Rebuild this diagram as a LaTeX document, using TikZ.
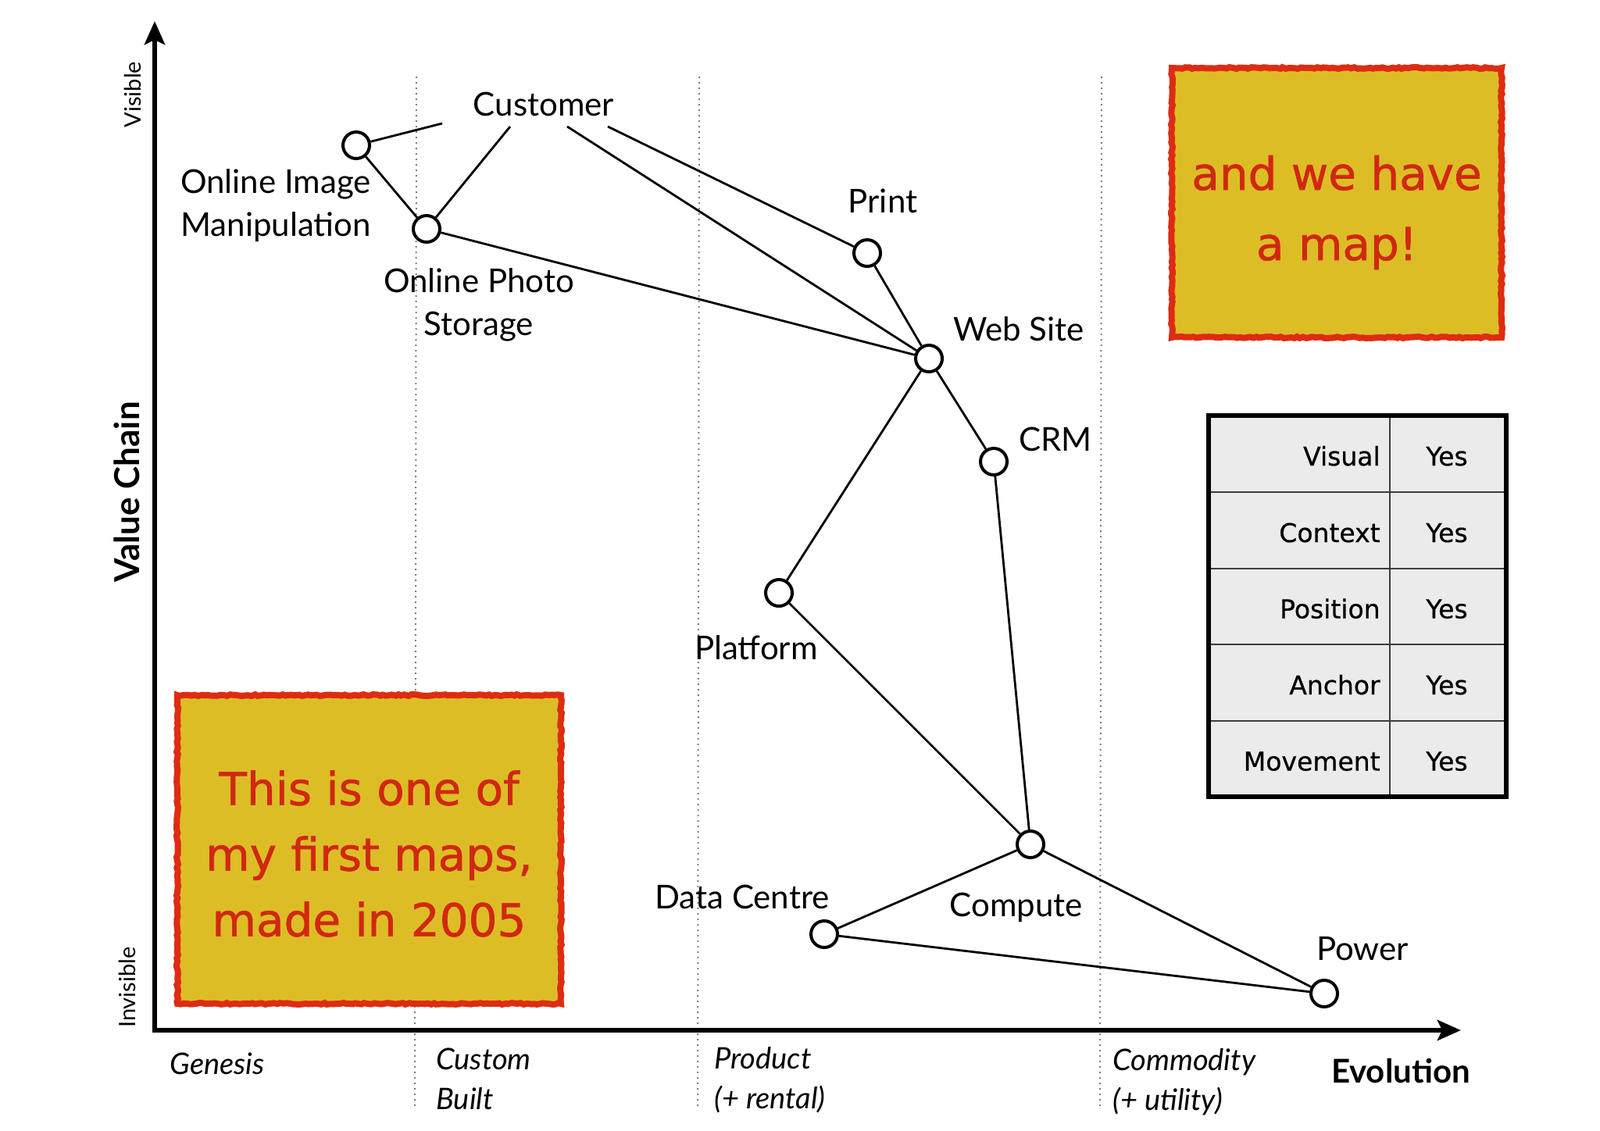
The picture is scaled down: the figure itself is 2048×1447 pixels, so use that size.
\documentclass[tikz,border=0pt]{standalone}
\usepackage{fontspec}
\setmainfont{Lato}
\newfontfamily\notefont[FakeBold=1.2]{DejaVu Sans}
\newfontfamily\cellfont[FakeBold=0.6]{DejaVu Sans}
\usetikzlibrary{arrows.meta,decorations.pathmorphing}
\definecolor{notefill}{RGB}{221,189,38}
\definecolor{notered}{RGB}{222,44,18}
\definecolor{notetext}{RGB}{208,40,16}
\definecolor{tablefill}{RGB}{235,235,235}
\definecolor{tableline}{RGB}{60,60,60}
\begin{document}
\begin{tikzpicture}[x=0.5pt,y=-0.5pt,
  comp/.style={circle,draw,line width=2pt,fill=white,minimum size=17pt,inner sep=0pt},
  link/.style={line width=1.4pt},
  lbl/.style={font=\fontsize{21}{27.5}\selectfont,align=center,inner sep=0pt},
  evo/.style={font=\fontsize{19}{25.5}\selectfont\itshape,align=left,inner sep=0pt,anchor=west},
  axislbl/.style={font=\fontsize{14.5}{17}\selectfont,inner sep=0pt,rotate=90},
  axisline/.style={line width=3pt,{Stealth[length=15pt,width=13pt,inset=3pt]}-{Stealth[length=15pt,width=13pt,inset=3pt]}},
  stage/.style={gray,line width=1pt,dash pattern=on 1pt off 2.5pt},
  note/.style={draw=notered,fill=notefill,line width=4pt,decorate,
    decoration={random steps,segment length=2pt,amplitude=0.5pt}},
  notetxt/.style={text=notetext,font=\notefont\fontsize{29}{42}\selectfont,align=center,inner sep=0pt},
  cell/.style={font=\cellfont\fontsize{16.5}{20}\selectfont,inner sep=0pt,text height=12pt,text depth=0pt},
]
\fill[white] (0,0) rectangle (2048,1447);
\useasboundingbox (0,0) rectangle (2048,1447);

% evolution stage separators
\draw[stage] (533,98) -- (531,1421);
\draw[stage] (895,98) -- (893,1421);
\draw[stage] (1410,98) -- (1408,1421);

% sticky notes
\node[note,minimum width=211pt,minimum height=172.5pt] (note1) at (1711,259.5) {};
\node[notetxt] (note1t) at (1711,272) {and we have\\[3pt]a map!};
\node[note,minimum width=245.5pt,minimum height=197.5pt] (note2) at (472.5,1087.5) {};
\node[notetxt] (note2t) at (472.5,1093) {This is one of\\my first maps,\\made in 2005};

% table
\fill[tablefill] (1547,532) rectangle (1928,1020);
\foreach \yy in {630,728,825,923} \draw[tableline,line width=1pt] (1547,\yy) -- (1928,\yy);
\draw[tableline,line width=1pt] (1779,532) -- (1779,1020);
\draw[black,line width=3pt] (1547,532) rectangle (1928,1020);
\node[cell,anchor=east] (t1) at (1767,584) {Visual};
\node[cell,anchor=east] (t2) at (1767,682) {Context};
\node[cell,anchor=east] (t3) at (1767,779.5) {Position};
\node[cell,anchor=east] (t4) at (1767,877) {Anchor};
\node[cell,anchor=east] (t5) at (1767,974.5) {Movement};
\foreach \yy/\nm in {584/y1,682/y2,779.5/y3,877/y4,974.5/y5}
  \node[cell] (\nm) at (1852,\yy) {Yes};

% axes
\coordinate (ytip) at (198,27);
\coordinate (orig) at (198,1319);
\coordinate (xtip) at (1870,1319);
\draw[axisline] (ytip) -- (orig) -- (xtip);

\node[axislbl] (vis) at (170,121) {Visible};
\node[axislbl] (invis) at (163,1264) {Invisible};
\node[font=\fontsize{22}{26}\selectfont\bfseries,rotate=90,inner sep=0pt] (vc) at (162,630) {Value Chain};
\node[font=\fontsize{21}{26}\selectfont\bfseries,inner sep=0pt] (evol) at (1793,1371) {Evolution};
\node[font=\fontsize{19}{25.5}\selectfont\itshape,inner sep=0pt] (gen) at (278,1362) {Genesis};
\node[evo] (cb) at (558,1381) {Custom\\Built};
\node[evo] (pr) at (914,1383) {Product\\(+ rental)};
\node[evo] (cm) at (1424,1385) {Commodity\\(+ utility)};

% components
\node[comp] (oim) at (456,186) {};
\node[comp] (ops) at (546,293) {};
\node[comp] (prt) at (1110,324) {};
\node[comp] (web) at (1189,459) {};
\node[comp] (crm) at (1272,591) {};
\node[comp] (plat) at (997,759) {};
\node[comp] (comp) at (1319,1081) {};
\node[comp] (dc) at (1055,1196) {};
\node[comp] (pow) at (1695,1272) {};

% labels
\node[lbl] (custl) at (696,133) {Customer};
\node[lbl] (oiml) at (353,263) {Online Image\\Manipulation};
\node[lbl] (opsl) at (613,390) {Online Photo\\Storage};
\node[lbl] (prtl) at (1130,257) {Print};
\node[lbl] (webl) at (1304,421) {Web Site};
\node[lbl] (crml) at (1351,562) {CRM};
\node[lbl] (platl) at (968,829) {Platform};
\node[lbl] (dcl) at (950,1148) {Data Centre};
\node[lbl] (compl) at (1301,1162) {Compute};
\node[lbl] (powl) at (1744,1215) {Power};

% customer line ends
\coordinate (cA) at (566,158);
\coordinate (cB) at (653,162);
\coordinate (cC) at (726,162);
\coordinate (cD) at (778,162);

% connectors
\draw[link] (cA) -- (oim);
\draw[link] (cB) -- (ops);
\draw[link] (cC) -- (web);
\draw[link] (cD) -- (prt);
\draw[link] (oim) -- (ops);
\draw[link] (ops) -- (web);
\draw[link] (prt) -- (web);
\draw[link] (web) -- (crm);
\draw[link] (web) -- (plat);
\draw[link] (plat) -- (comp);
\draw[link] (crm) -- (comp);
\draw[link] (comp) -- (dc);
\draw[link] (comp) -- (pow);
\draw[link] (dc) -- (pow);
\end{tikzpicture}
\end{document}
